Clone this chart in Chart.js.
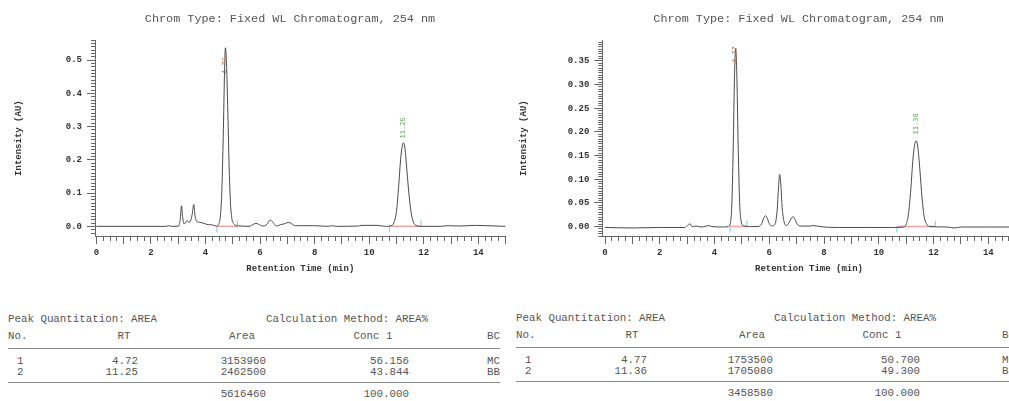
<!DOCTYPE html>
<html>
<head>
<meta charset="utf-8">
<script src="https://cdn.jsdelivr.net/npm/chart.js@4.4.1/dist/chart.umd.min.js"></script>
<style>
  html, body { margin: 0; padding: 0; background: #fff; }
  #page { position: relative; width: 1009px; height: 401px; overflow: hidden; }
  canvas { position: absolute; top: 0; }
  .t { position: absolute; font-family: "Liberation Mono", monospace; font-size: 10.8px; line-height: 12px; color: #555; white-space: pre; }
  .rule { position: absolute; height: 0; border-top: 1px solid #888; }
</style>
</head>
<body>
<div id="page">
  <canvas id="chromLeft" width="580" height="290" style="left:0"></canvas>
  <canvas id="chromRight" width="587" height="290" style="left:505px"></canvas>
</div>
<script>
// ---- left chromatogram ----
const leftRT = [0, 2.55, 2.65, 2.75, 3.02, 3.08, 3.12, 3.16, 3.21, 3.27, 3.33, 3.39, 3.45, 3.51, 3.57, 3.62, 3.68, 3.8, 3.95, 4.1, 4.2, 4.3, 4.4,
  4.48, 4.55, 4.6, 4.65, 4.7, 4.73, 4.77, 4.82, 4.87, 4.92, 4.97, 5.05, 5.15, 5.3, 5.6, 5.75, 5.85, 5.95, 6.1, 6.25, 6.38, 6.5, 6.6,
  6.75, 6.9, 7.05, 7.15, 7.3, 7.6, 8.0, 8.5, 8.65, 8.8, 9.6, 9.7, 10.3, 10.6, 10.8, 10.9, 11.0, 11.08, 11.15, 11.22, 11.26, 11.31,
  11.38, 11.46, 11.54, 11.62, 11.72, 11.85, 12.6, 12.9, 13.3, 13.9, 14.3, 15];
const leftAU = [0, 0, 0.002, 0, 0.001, 0.025, 0.062, 0.030, 0.008, 0.010, 0.018, 0.012, 0.016, 0.035, 0.066, 0.030, 0.015, 0.012, 0.009, 0.005, 0.005, 0.003, 0.001,
  0.006, 0.035, 0.11, 0.27, 0.47, 0.537, 0.49, 0.34, 0.17, 0.065, 0.022, 0.007, 0.002, 0.001, 0, 0.006, 0.009, 0.006, 0.001, 0.006, 0.019, 0.009, 0.001,
  0.005, 0.008, 0.012, 0.008, 0.002, 0.002, 0.002, 0, 0.002, 0, 0.001, 0.003, 0.003, 0, 0.002, 0.010, 0.045, 0.12, 0.20, 0.245, 0.251, 0.235,
  0.17, 0.095, 0.04, 0.013, 0.003, 0, 0, 0.002, 0.001, 0.003, 0.002, 0];
const leftPeakRT = [4.72, 11.25];
const leftPeakHeight = [0.537, 0.251];
const leftBaseStart = [4.42, 10.74];
const leftBaseEnd = [5.17, 11.9];
const leftMarkRT = [4.42, 5.17, 10.74, 11.9];
const leftMarkAU = [-0.009, 0.009, -0.009, 0.009];

// ---- right chromatogram ----
const rightRT = [0, 1.0, 2.0, 2.9, 3.05, 3.1, 3.18, 3.35, 3.5, 3.7, 3.8, 3.9, 4.3, 4.5, 4.58, 4.63, 4.68, 4.73, 4.77, 4.81, 4.86, 4.91, 4.96,
  5.05, 5.3, 5.6, 5.72, 5.8, 5.86, 5.92, 6.0, 6.1, 6.2, 6.28, 6.34, 6.38, 6.42, 6.47, 6.54, 6.62, 6.72, 6.8, 6.87, 6.94, 7.02, 7.15,
  7.5, 7.6, 8.0, 8.5, 9.5, 10.5, 10.9, 11.0, 11.08, 11.17, 11.25, 11.32, 11.37, 11.42, 11.5, 11.58, 11.66, 11.75, 11.85, 12.5, 12.75,
  13.0, 14.0, 15.0];
const rightAU = [-0.002, -0.003, -0.002, -0.002, 0.004, 0.006, 0, 0.001, -0.001, 0.001, 0.002, 0, -0.001, 0, 0.008, 0.045, 0.16, 0.32, 0.376, 0.33, 0.18, 0.06, 0.015,
  0.002, 0, 0, 0.006, 0.018, 0.023, 0.018, 0.006, 0.001, 0.004, 0.03, 0.085, 0.11, 0.09, 0.04, 0.01, 0.002, 0.008, 0.017, 0.021, 0.015, 0.005, 0.001,
  0.001, 0.002, -0.001, -0.002, -0.002, -0.002, -0.001, 0.005, 0.025, 0.08, 0.145, 0.176, 0.181, 0.17, 0.12, 0.06, 0.02, 0.005, 0, -0.001, -0.003,
  -0.001, -0.001, -0.001];
const rightPeakRT = [4.77, 11.36];
const rightPeakHeight = [0.376, 0.181];
const rightBaseStart = [4.57, 10.66];
const rightBaseEnd = [5.18, 12.06];
const rightMarkRT = [4.57, 5.18, 10.66, 12.06];
const rightMarkAU = [-0.006, 0.006, -0.006, 0.006];

// ---- peak tables ----
const leftTableNo = ['1', '2'];
const leftTableRT = ['4.72', '11.25'];
const leftTableArea = ['3153960', '2462500'];
const leftTableConc = ['56.156', '43.844'];
const leftTableBC = ['MC', 'BB'];
const leftTotals = ['5616460', '100.000'];

const rightTableNo = ['1', '2'];
const rightTableRT = ['4.77', '11.36'];
const rightTableArea = ['1753500', '1705080'];
const rightTableConc = ['50.700', '49.300'];
const rightTableBC = ['MC', 'BB'];
const rightTotals = ['3458580', '100.000'];

const MONO = '"Liberation Mono", "Courier New", monospace';
const TITLE = 'Chrom Type: Fixed WL Chromatogram, 254 nm';

function isMajor(v, step) {
  return Math.abs(v / step - Math.round(v / step)) < 1e-6;
}

// rotated retention-time labels over each peak
const peakLabels = {
  id: 'peakLabels',
  afterDatasetsDraw(chart, args, opts) {
    const { ctx, scales: { x, y } } = chart;
    ctx.save();
    ctx.font = '7px ' + MONO;
    ctx.textAlign = 'center';
    ctx.textBaseline = 'middle';
    opts.rt.forEach((t, i) => {
      const px = x.getPixelForValue(t);
      const py = y.getPixelForValue(opts.height[i]) + opts.offsets[i];
      ctx.save();
      ctx.translate(px, py);
      ctx.rotate(-Math.PI / 2);
      ctx.fillStyle = opts.colors[i];
      ctx.fillText(t.toFixed(2), 0, 0);
      ctx.restore();
    });
    ctx.restore();
  }
};

function makeChrom(canvasId, cfg) {
  const ctx = document.getElementById(canvasId).getContext('2d');
  const datasets = [{
    data: cfg.rt.map((t, i) => ({ x: t, y: cfg.au[i] })),
    borderColor: '#4a4a4a',
    borderWidth: 1,
    pointRadius: 0,
    cubicInterpolationMode: 'monotone',
    order: 0
  }];
  cfg.baseStart.forEach((s, i) => {
    datasets.push({
      data: [{ x: s, y: 0 }, { x: cfg.baseEnd[i], y: 0 }],
      borderColor: '#f3a3a3',
      borderWidth: 1.5,
      pointRadius: 0,
      order: 1
    });
  });
  datasets.push({
    data: cfg.markRT.map((t, i) => ({ x: t, y: cfg.markAU[i] })),
    showLine: false,
    pointStyle: 'line',
    rotation: 90,
    pointRadius: 3,
    pointBorderColor: '#62d2e0',
    pointBorderWidth: 1,
    order: 1
  });

  return new Chart(ctx, {
    type: 'line',
    data: { datasets },
    plugins: [peakLabels],
    options: {
      responsive: false,
      animation: false,
      layout: { padding: 0 },
      plugins: {
        legend: { display: false },
        tooltip: { enabled: false },
        title: {
          display: true,
          text: TITLE,
          color: '#555',
          font: { family: MONO, size: 11.8, weight: 'normal' },
          padding: { top: 12, bottom: 14 }
        },
        peakLabels: {
          rt: cfg.peakRT,
          height: cfg.peakHeight,
          offsets: cfg.labelOffsets,
          colors: ['#b87a52', '#62a552']
        }
      },
      scales: {
        x: {
          type: 'linear',
          min: cfg.xMin,
          max: 15,
          afterFit: s => { s.height = 54; },
          border: { display: true, color: '#666', width: 1 },
          grid: {
            drawOnChartArea: false,
            tickLength: 8,
            tickColor: '#666',
            tickBorderDash: c => isMajor(c.tick.value, 1) ? [] : [4, 20]
          },
          ticks: {
            stepSize: 0.25,
            includeBounds: false,
            autoSkip: false,
            maxRotation: 0,
            padding: 3,
            color: '#333',
            font: { family: MONO, size: 9, weight: 'bold' },
            callback: v => (isMajor(v, 2) ? String(Math.round(v)) : '')
          },
          title: {
            display: true,
            text: 'Retention Time (min)',
            color: '#333',
            font: { family: MONO, size: 9, weight: 'bold' },
            padding: { top: 0, bottom: 15.6 }
          }
        },
        y: {
          type: 'linear',
          min: cfg.yMin,
          max: cfg.yMax,
          afterFit: s => { s.width = cfg.axisLeft; },
          border: { display: true, color: '#666', width: 1 },
          grid: {
            drawOnChartArea: false,
            tickLength: 8,
            tickColor: '#666',
            tickBorderDash: c => isMajor(c.tick.value, cfg.yMajor) ? [] : [0, 4, 4, 20]
          },
          ticks: {
            stepSize: cfg.yMinor,
            includeBounds: false,
            autoSkip: false,
            padding: 5,
            color: '#333',
            font: { family: MONO, size: 9, weight: 'bold' },
            callback: v => (isMajor(v, cfg.yMajor) ? (Math.abs(v) < 1e-9 ? 0 : v).toFixed(cfg.yDigits) : '')
          },
          title: {
            display: true,
            text: 'Intensity (AU)',
            color: '#333',
            font: { family: MONO, size: 9, weight: 'bold' },
            padding: { top: 13, bottom: 0 }
          }
        },
        // empty right-hand box so the title centres like the original
        pad: {
          type: 'linear',
          position: 'right',
          display: true,
          grid: { display: false },
          border: { display: false },
          ticks: { display: false },
          afterFit: s => { s.width = cfg.padRight; }
        }
      }
    }
  });
}

makeChrom('chromLeft', {
  rt: leftRT, au: leftAU,
  peakRT: leftPeakRT, peakHeight: leftPeakHeight, labelOffsets: [18, -15],
  baseStart: leftBaseStart, baseEnd: leftBaseEnd,
  markRT: leftMarkRT, markAU: leftMarkAU,
  xMin: -0.05, yMin: -0.029, yMax: 0.56, yMinor: 0.01, yMajor: 0.1, yDigits: 1,
  axisLeft: 95, padRight: 74.4
});

makeChrom('chromRight', {
  rt: rightRT, au: rightAU,
  peakRT: rightPeakRT, peakHeight: rightPeakHeight, labelOffsets: [6, -17],
  baseStart: rightBaseStart, baseEnd: rightBaseEnd,
  markRT: rightMarkRT, markAU: rightMarkAU,
  xMin: -0.1, yMin: -0.02, yMax: 0.394, yMinor: 0.005, yMajor: 0.05, yDigits: 2,
  axisLeft: 97.3, padRight: 76.3
});

// ---- tables as plain text ----
const page = document.getElementById('page');
const rowY = { title: 318, head: 335, rule1: 348, rows: [360, 371], rule2: 382, total: 393 };
const tableLayout = {
  left:  { x0: 8, calcX: 266, rtC: 124, areaC: 242, concC: 373, bcX: 487, noX: 17, rtR: 138, areaR: 266, concR: 409, ruleR: 500, dy: 0 },
  right: { x0: 516, calcX: 774, rtC: 632, areaC: 752, concC: 882, bcX: 1002, noX: 525, rtR: 647, areaR: 773, concR: 920, ruleR: 1009, dy: -1 }
};

function putText(text, x, yc, align) {
  const el = document.createElement('div');
  el.className = 't';
  el.textContent = text;
  el.style.left = x + 'px';
  el.style.top = (yc - 5.5) + 'px';
  if (align === 'right') el.style.transform = 'translateX(-100%)';
  if (align === 'center') el.style.transform = 'translateX(-50%)';
  page.appendChild(el);
}

function putRule(x0, x1, y) {
  const el = document.createElement('div');
  el.className = 'rule';
  el.style.left = x0 + 'px';
  el.style.width = (x1 - x0) + 'px';
  el.style.top = y + 'px';
  page.appendChild(el);
}

function drawTable(L, no, rt, area, conc, bc, totals) {
  const d = L.dy;
  putText('Peak Quantitation: AREA', L.x0, rowY.title + d, 'left');
  putText('Calculation Method: AREA%', L.calcX, rowY.title + d, 'left');
  putText('No.', L.x0, rowY.head + d, 'left');
  putText('RT', L.rtC, rowY.head + d, 'center');
  putText('Area', L.areaC, rowY.head + d, 'center');
  putText('Conc 1', L.concC, rowY.head + d, 'center');
  putText('BC', L.bcX, rowY.head + d, 'left');
  putRule(L.x0, L.ruleR, rowY.rule1 + d);
  no.forEach((n, i) => {
    const y = rowY.rows[i] + d;
    putText(n, L.noX, y, 'left');
    putText(rt[i], L.rtR, y, 'right');
    putText(area[i], L.areaR, y, 'right');
    putText(conc[i], L.concR, y, 'right');
    putText(bc[i], L.bcX, y, 'left');
  });
  putRule(L.x0, L.ruleR, rowY.rule2 + d);
  putText(totals[0], L.areaR, rowY.total + d, 'right');
  putText(totals[1], L.concR, rowY.total + d, 'right');
}

drawTable(tableLayout.left, leftTableNo, leftTableRT, leftTableArea, leftTableConc, leftTableBC, leftTotals);
drawTable(tableLayout.right, rightTableNo, rightTableRT, rightTableArea, rightTableConc, rightTableBC, rightTotals);
</script>
</body>
</html>
